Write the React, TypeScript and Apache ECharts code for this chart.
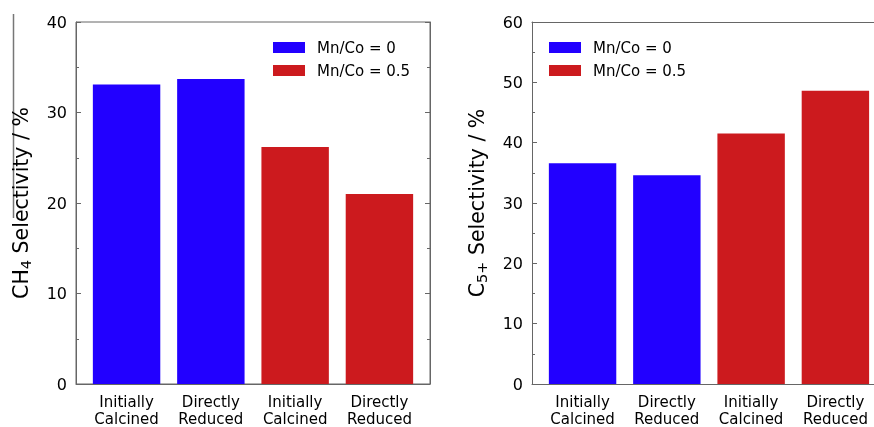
import React, { useEffect, useRef } from "react";
import * as echarts from "echarts";

const categories = ["Initially\nCalcined", "Directly\nReduced", "Initially\nCalcined", "Directly\nReduced"];
const seriesNames = ["Mn/Co = 0", "Mn/Co = 0.5"];
const posMn0 = [0, 1];
const posMn05 = [2, 3];
const ch4Mn0 = [33.1, 33.7];
const ch4Mn05 = [26.2, 21.0];
const c5Mn0 = [36.6, 34.6];
const c5Mn05 = [41.5, 48.6];
const ch4Ticks = { min: 0, max: 40, interval: 10 };
const c5Ticks = { min: 0, max: 60, interval: 10 };

const BLUE = "#2200ff";
const RED = "#cc1a1e";
const FRAME = "#666";
const FONT = "DejaVu Sans";

function pairs(pos: number[], vals: number[]) {
  return pos.map((p, i) => [p, vals[i]]);
}

export default function App() {
  const ref = useRef<HTMLDivElement>(null);
  useEffect(() => {
    if (!ref.current) return;
    const chart = echarts.init(ref.current, null, { renderer: "svg" });
    const grids = [
      { left: 76, top: 22, width: 354, height: 365, show: true },
      { left: 532, top: 22, width: 342, height: 365, show: false },
    ];
    const xRange = [
      { min: -0.6, max: 3.6 },
      { min: -0.6, max: 3.458 },
    ];
    const xAxis: any[] = grids.map((_, gi) => ({
      type: "value",
      gridIndex: gi,
      min: xRange[gi].min,
      max: xRange[gi].max,
      splitLine: { show: false },
      axisTick: { show: false },
      axisLine: { show: true, onZero: false, lineStyle: { color: FRAME, width: 1 } },
      axisLabel: {
        customValues: [0, 1, 2, 3],
        formatter: (v: number) => categories[Math.round(v)],
        color: "#000",
        fontFamily: FONT,
        fontSize: 15,
        lineHeight: 17,
        margin: 9,
      },
    }));
    xAxis.push({
      type: "value",
      gridIndex: 1,
      position: "top",
      min: xRange[1].min,
      max: xRange[1].max,
      splitLine: { show: false },
      axisTick: { show: false },
      axisLabel: { show: false },
      axisLine: { show: true, onZero: false, lineStyle: { color: FRAME, width: 1 } },
    });
    const mkY = (gi: number, t: any, name: string, pos: string, showLabel: boolean) => ({
      type: "value",
      gridIndex: gi,
      position: pos,
      min: t.min,
      max: t.max,
      interval: t.interval,
      splitLine: { show: false },
      axisLine: { show: true, onZero: false, lineStyle: { color: FRAME, width: 1 } },
      axisTick: { show: true, inside: true, length: 5, lineStyle: { color: FRAME } },
      minorTick: { show: true, splitNumber: 2, length: 3, lineStyle: { color: FRAME } },
      axisLabel: {
        show: showLabel,
        color: "#000",
        fontFamily: FONT,
        fontSize: 16,
        margin: 9,
      },
      name: showLabel ? name : "",
      nameLocation: "middle",
      nameGap: 43,
      nameTextStyle: {
        color: "#000",
        fontFamily: FONT,
        fontSize: 20.5,
        rich: {
          b: { fontFamily: FONT, fontSize: 20.5, color: "#000" },
          s: { fontFamily: FONT, fontSize: 14.5, color: "#000", padding: [9, 0, 0, 0] },
        },
      },
    });
    const yAxis = [
      mkY(0, ch4Ticks, "{b|CH}{s|4}{b| Selectivity / %}", "left", true),
      mkY(0, ch4Ticks, "", "right", false),
      mkY(1, c5Ticks, "{b|C}{s|5+}{b| Selectivity / %}", "left", true),
    ];
    const bar = (name: string, color: string, gi: number, yi: number, data: number[][]) => ({
      type: "bar",
      name,
      xAxisIndex: gi,
      yAxisIndex: yi,
      barWidth: "80%",
      barGap: "-100%",
      itemStyle: { color },
      data,
    });
    const legendBase = {
      orient: "vertical",
      top: 40,
      padding: 0,
      itemWidth: 32,
      itemHeight: 11,
      itemGap: 8,
      icon: "rect",
      data: seriesNames,
      textStyle: { fontFamily: FONT, fontSize: 15, color: "#000", padding: [0, 0, 0, 7] },
    };
    chart.setOption({
      animation: false,
      grid: grids.map((g) => ({ ...g, borderColor: FRAME, borderWidth: 1, backgroundColor: "transparent" })),
      xAxis,
      yAxis,
      legend: [
        { ...legendBase, left: 273 },
        { ...legendBase, left: 549 },
      ],
      series: [
        bar(seriesNames[0], BLUE, 0, 0, pairs(posMn0, ch4Mn0)),
        bar(seriesNames[1], RED, 0, 0, pairs(posMn05, ch4Mn05)),
        bar(seriesNames[0], BLUE, 1, 2, pairs(posMn0, c5Mn0)),
        bar(seriesNames[1], RED, 1, 2, pairs(posMn05, c5Mn05)),
      ],
      graphic: [
        {
          type: "line",
          shape: { x1: 13.5, y1: 14, x2: 13.5, y2: 218 },
          style: { stroke: "#777", lineWidth: 1.5 },
          silent: true,
        },
      ],
    });
    return () => chart.dispose();
  }, []);
  return <div ref={ref} style={{ position: "fixed", left: 0, top: 0, width: 874, height: 427 }} />;
}
